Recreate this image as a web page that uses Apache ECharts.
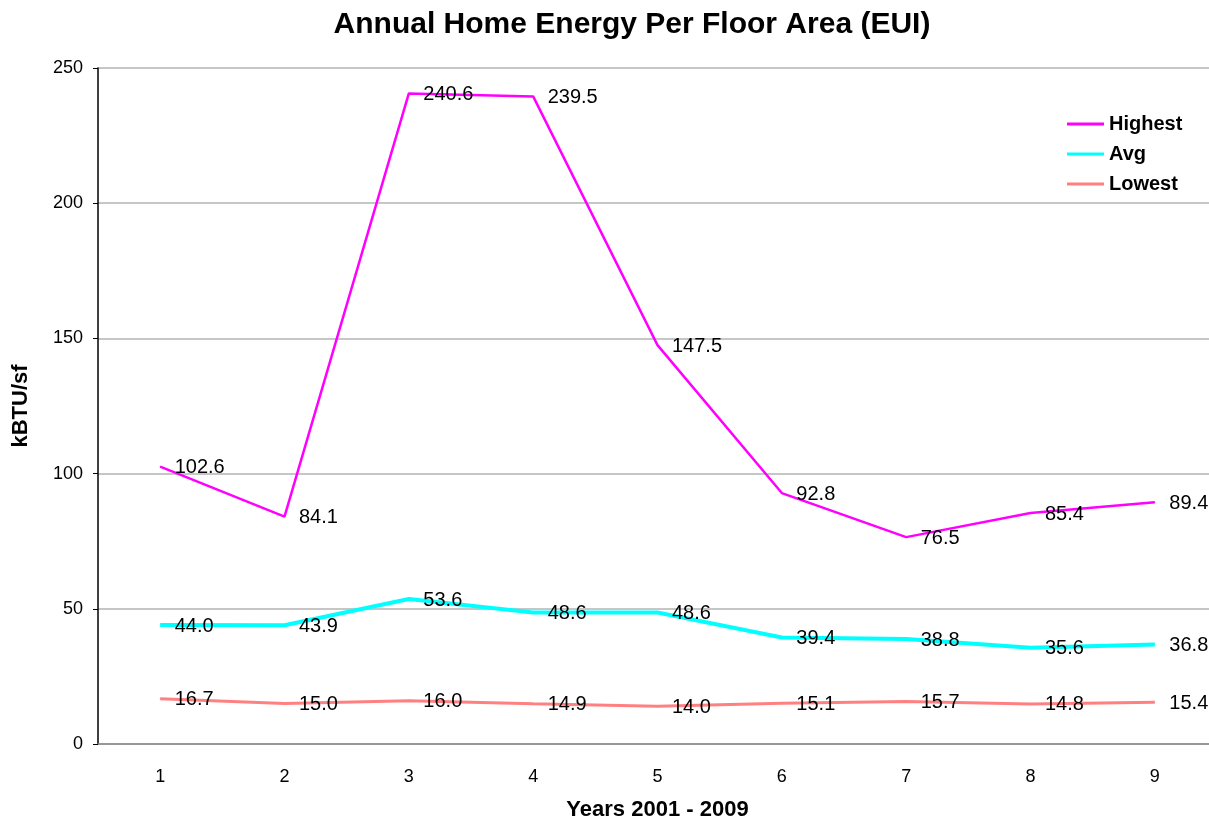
<!DOCTYPE html>
<html>
<head>
<meta charset="utf-8">
<script src="https://cdn.jsdelivr.net/npm/echarts@6/dist/echarts.min.js"></script>
<style>
  html, body { margin: 0; padding: 0; background: #fff; }
  #chart { width: 1209px; height: 822px; }
</style>
</head>
<body>
<div id="chart"></div>
<script>
// Years 2001-2009, shown as 1..9
const years = ['1', '2', '3', '4', '5', '6', '7', '8', '9'];
const highest = [102.6, 84.1, 240.6, 239.5, 147.5, 92.8, 76.5, 85.4, 89.4];
const avg = [44.0, 43.9, 53.6, 48.6, 48.6, 39.4, 38.8, 35.6, 36.8];
const lowest = [16.7, 15.0, 16.0, 14.9, 14.0, 15.1, 15.7, 14.8, 15.4];
const yTicks = [0, 50, 100, 150, 200, 250];

const FONT = '"Liberation Sans", Arial, sans-serif';

function makeSeries(name, data, color, width) {
  return {
    name: name,
    type: 'line',
    data: data,
    symbol: 'circle',
    symbolSize: 1,
    itemStyle: { color: color },
    lineStyle: { color: color, width: width },
    emphasis: { disabled: true },
    animation: false,
    label: {
      show: true,
      position: 'right',
      distance: 14,
      offset: [0, 1],
      color: '#000',
      fontFamily: FONT,
      fontSize: 20,
      formatter: p => p.value.toFixed(1)
    }
  };
}

const chart = echarts.init(document.getElementById('chart'));
chart.setOption({
  backgroundColor: '#fff',
  title: {
    text: 'Annual Home Energy Per Floor Area (EUI)',
    left: 627,
    textAlign: 'center',
    top: 5,
    textStyle: { fontFamily: FONT, fontSize: 30, fontWeight: 'bold', color: '#000' }
  },
  legend: {
    orient: 'vertical',
    left: 1062,
    top: 108,
    itemWidth: 37,
    itemHeight: 3,
    itemGap: 8,
    icon: 'rect',
    data: [
      { name: 'Highest', itemStyle: { color: '#FF00FF' } },
      { name: 'Avg', itemStyle: { color: '#00FFFF' } },
      { name: 'Lowest', itemStyle: { color: '#FF8080' } }
    ],
    textStyle: { fontFamily: FONT, fontSize: 20, fontWeight: 'bold', color: '#000', lineHeight: 22 }
  },
  grid: { left: 98, top: 68, width: 1119, height: 676, outerBoundsMode: 'none' },
  xAxis: {
    type: 'category',
    data: years,
    boundaryGap: true,
    name: 'Years 2001 - 2009',
    nameLocation: 'middle',
    nameGap: 55,
    nameTextStyle: { fontFamily: FONT, fontSize: 22, fontWeight: 'bold', color: '#000' },
    axisLine: { lineStyle: { color: '#888', width: 1.5 } },
    axisTick: { show: false },
    axisLabel: { fontFamily: FONT, fontSize: 18, color: '#000', margin: 24 }
  },
  yAxis: {
    type: 'value',
    min: yTicks[0],
    max: yTicks[yTicks.length - 1],
    interval: 50,
    name: 'kBTU/sf',
    nameLocation: 'middle',
    nameGap: 66,
    nameRotate: 90,
    nameTextStyle: { fontFamily: FONT, fontSize: 22, fontWeight: 'bold', color: '#000' },
    axisLine: { show: true, lineStyle: { color: '#000', width: 1.5 } },
    axisTick: { show: true, length: 5, lineStyle: { color: '#000' } },
    axisLabel: { fontFamily: FONT, fontSize: 18, color: '#000', margin: 15 },
    splitLine: { lineStyle: { color: '#b3b3b3', width: 1.5 } }
  },
  series: [
    makeSeries('Highest', highest, '#FF00FF', 2.5),
    makeSeries('Avg', avg, '#00FFFF', 4),
    makeSeries('Lowest', lowest, '#FF8080', 3)
  ]
});
</script>
</body>
</html>
